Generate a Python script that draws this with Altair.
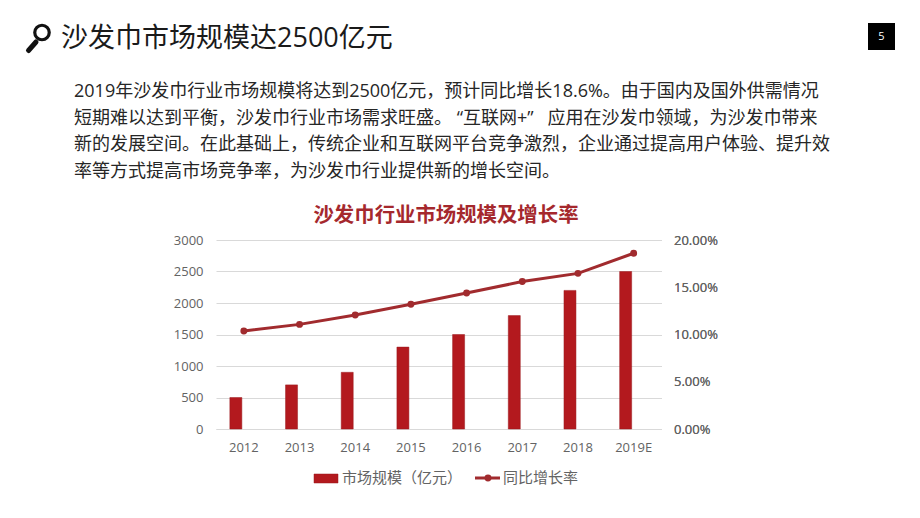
import altair as alt
import pandas as pd

years = ["2012", "2013", "2014", "2015", "2016", "2017", "2018", "2019E"]
market_size = [500, 700, 900, 1300, 1500, 1800, 2200, 2500]
growth = [0.1037, 0.1107, 0.1206, 0.132, 0.1439, 0.156, 0.1647, 0.186]

left_ticks = [0, 500, 1000, 1500, 2000, 2500, 3000]
right_ticks = [0, 0.05, 0.10, 0.15, 0.20]

heading = "沙发巾市场规模达2500亿元"
page_no = "5"
body_lines = [
    "2019年沙发巾行业市场规模将达到2500亿元，预计同比增长18.6%。由于国内及国外供需情况",
    "短期难以达到平衡，沙发巾行业市场需求旺盛。 “互联网+”\u00a0\u00a0\u00a0应用在沙发巾领域，为沙发巾带来",
    "新的发展空间。在此基础上，传统企业和互联网平台竞争激烈，企业通过提高用户体验、提升效",
    "率等方式提高市场竞争率，为沙发巾行业提供新的增长空间。",
]
chart_title = "沙发巾行业市场规模及增长率"
legend_bar = "市场规模（亿元）"
legend_line = "同比增长率"

FONT = "Open Sans, Noto Sans CJK SC"
CJK = "Noto Sans CJK SC"
BAR = "#B3191E"
LINE = "#A12B2E"
GREY = "#636363"
OX, OY = 216, 240  # page position of the plot's top-left corner

df = pd.DataFrame({"year": years, "size": market_size, "growth": growth})
one = pd.DataFrame({"k": [0]})

x = alt.X(
    "year:N",
    sort=years,
    title=None,
    scale=alt.Scale(paddingInner=0, paddingOuter=0),
    axis=alt.Axis(
        labelAngle=0, labelFont=FONT, labelFontSize=13, labelColor=GREY,
        labelPadding=12, ticks=False, domainColor="#D9D9D9", grid=False,
    ),
)

bars = alt.Chart(df).mark_bar(
    size=12, xOffset=-8, color=BAR, stroke="#9A1B1F", strokeWidth=0.5
).encode(
    x=x,
    y=alt.Y(
        "size:Q", title=None,
        scale=alt.Scale(domain=[0, 3000]),
        axis=alt.Axis(
            values=left_ticks, format="d", labelFont=FONT, labelFontSize=13,
            labelColor=GREY, labelPadding=13, ticks=False, domain=False, grid=True,
            gridColor="#D9D9D9", gridWidth=1,
        ),
    ),
)

y2 = alt.Y(
    "growth:Q", title=None,
    scale=alt.Scale(domain=[0, 0.20]),
    axis=alt.Axis(
        orient="right", values=right_ticks, format=".2%", labelFont=FONT,
        labelFontSize=13, labelColor=GREY, labelPadding=12, ticks=False,
        domain=False, grid=False,
    ),
)
line = alt.Chart(df).mark_line(color=LINE, strokeWidth=3).encode(x=x, y=y2)
dots = alt.Chart(df).mark_point(filled=True, color=LINE, size=48, opacity=1).encode(x=x, y=y2)


def label(text, px, py, size, color, align="left", weight="normal", font=FONT):
    return alt.Chart(one).mark_text(
        text=text, align=align, baseline="middle", fontSize=size,
        color=color, fontWeight=weight, font=font,
    ).encode(x=alt.value(px - OX), y=alt.value(py - OY))


layers = [bars, line, dots]
layers.append(label(heading, 61, 38.5, 27, "#1A1A1A"))
for text, py in zip(body_lines, [91.5, 118.5, 145, 172]):
    layers.append(label(text, 74, py, 18, "#262626"))
layers.append(label(chart_title, 446, 216, 20.4, "#A5282D", align="center", weight="bold", font=CJK))

# page-number box
layers.append(alt.Chart(one).mark_rect(color="#000000").encode(
    x=alt.value(868 - OX), x2=alt.value(895 - OX),
    y=alt.value(23 - OY), y2=alt.value(50 - OY)))
layers.append(label(page_no, 881.5, 37, 11, "#FFFFFF", align="center"))

# magnifier icon
layers.append(alt.Chart(one).mark_rule(color="#111111", strokeWidth=5, strokeCap="round").encode(
    x=alt.value(36 - OX), x2=alt.value(28.5 - OX),
    y=alt.value(42 - OY), y2=alt.value(50.5 - OY)))
layers.append(alt.Chart(one).mark_point(
    shape="circle", filled=False, color="#111111", strokeWidth=3.2, size=210, opacity=1
).encode(x=alt.value(42 - OX), y=alt.value(32.5 - OY)))

# legend
layers.append(alt.Chart(one).mark_rect(color=BAR, stroke="#9A1B1F", strokeWidth=0.5).encode(
    x=alt.value(314 - OX), x2=alt.value(338 - OX),
    y=alt.value(474 - OY), y2=alt.value(483 - OY)))
layers.append(label(legend_bar, 342, 478, 15, GREY, font=CJK))
layers.append(alt.Chart(one).mark_rule(color=LINE, strokeWidth=3).encode(
    x=alt.value(475 - OX), x2=alt.value(500 - OX), y=alt.value(478 - OY)))
layers.append(alt.Chart(one).mark_point(filled=True, color=LINE, size=48, opacity=1).encode(
    x=alt.value(488 - OX), y=alt.value(478 - OY)))
layers.append(label(legend_line, 503, 478, 15, GREY, font=CJK))

chart = alt.layer(*layers).resolve_scale(y="independent").properties(
    width=445.5,
    height=189,
    autosize=alt.AutoSizeParams(type="none"),
    padding={"left": OX - 8, "top": OY - 8, "right": 250, "bottom": 81},
    background="#FFFFFF",
).configure_view(stroke=None)

chart.save("out.html", embed_options={"renderer": "svg", "actions": False})
